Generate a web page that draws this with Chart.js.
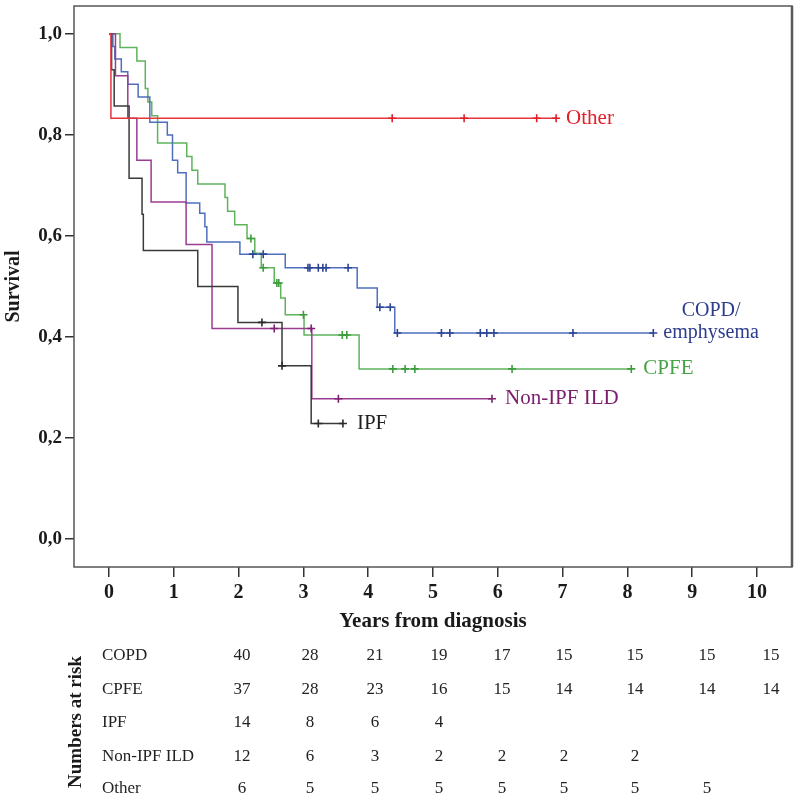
<!DOCTYPE html>
<html>
<head>
<meta charset="utf-8">
<script src="https://cdn.jsdelivr.net/npm/chart.js@4"></script>
<style>
  html, body { margin: 0; padding: 0; background: #fff; }
  #wrap { width: 800px; height: 801px; }
</style>
</head>
<body>
<div id="wrap"><canvas id="kmChart" width="800" height="801"></canvas></div>
<script>
// Axes
const yearTicks = [0, 1, 2, 3, 4, 5, 6, 7, 8, 9, 10]
const survivalTicks = [0, 0.2, 0.4, 0.6, 0.8, 1.0]

// Kaplan-Meier steps (time of drop, survival after drop), end of follow-up, censored times
const otherTimes = [0, 0.03]
const otherSurv = [1, 0.833]
const otherEnd = 6.90
const otherCensor = [4.37, 5.48, 6.60, 6.90]

const copdTimes = [0, 0.06, 0.09, 0.19, 0.29, 0.45, 0.63, 0.90, 0.98, 1.06, 1.19, 1.40, 1.48, 1.51, 2.02, 2.72, 3.83, 4.14, 4.41]
const copdSurv = [1, 0.975, 0.95, 0.925, 0.9, 0.875, 0.825, 0.8, 0.75, 0.725, 0.665, 0.645, 0.618, 0.588, 0.564, 0.537, 0.497, 0.459, 0.408]
const copdEnd = 8.40
const copdCensor = [2.22, 2.38, 3.07, 3.10, 3.23, 3.30, 3.35, 3.69, 4.18, 4.34, 4.45, 5.13, 5.26, 5.73, 5.83, 5.94, 7.16, 8.40]

const cpfeTimes = [0, 0.17, 0.43, 0.56, 0.60, 0.66, 0.75, 1.20, 1.28, 1.37, 1.79, 1.83, 1.94, 2.13, 2.25, 2.35, 2.55, 2.65, 2.72, 3.01, 3.86]
const cpfeSurv = [1, 0.973, 0.946, 0.892, 0.865, 0.838, 0.784, 0.757, 0.730, 0.703, 0.676, 0.649, 0.622, 0.595, 0.566, 0.537, 0.507, 0.477, 0.444, 0.404, 0.337]
const cpfeEnd = 8.06
const cpfeCensor = [2.19, 2.38, 2.59, 2.62, 3.00, 3.60, 3.67, 4.38, 4.57, 4.72, 6.22, 8.06]

const ildTimes = [0, 0.10, 0.29, 0.43, 0.65, 1.19, 1.59, 3.13]
const ildSurv = [1, 0.917, 0.833, 0.75, 0.667, 0.583, 0.417, 0.278]
const ildEnd = 5.91
const ildCensor = [2.55, 3.12, 3.54, 5.91]

const ipfTimes = [0, 0.04, 0.08, 0.31, 0.51, 0.53, 1.37, 1.99, 2.67, 3.12]
const ipfSurv = [1, 0.929, 0.857, 0.714, 0.643, 0.571, 0.5, 0.429, 0.343, 0.229]
const ipfEnd = 3.61
const ipfCensor = [2.36, 2.67, 3.23, 3.61]

// Numbers at risk
const riskGroups = ['COPD', 'CPFE', 'IPF', 'Non-IPF ILD', 'Other']
const riskCopd = [40, 28, 21, 19, 17, 15, 15, 15, 15]
const riskCpfe = [37, 28, 23, 16, 15, 14, 14, 14, 14]
const riskIpf = [14, 8, 6, 4]
const riskIld = [12, 6, 3, 2, 2, 2, 2]
const riskOther = [6, 5, 5, 5, 5, 5, 5, 5]

const serif = "'Liberation Serif', 'DejaVu Serif', serif"

// Tra gia tri song con tai thoi diem t
function survAt(times, surv, t) {
    let s = surv[0]
    times.forEach((tt, i) => { if (tt <= t) s = surv[i] })
    return s
}

function stepPoints(times, surv, end) {
    const pts = times.map((t, i) => ({ x: t, y: surv[i] }))
    pts.push({ x: end, y: surv[surv.length - 1] })
    return pts
}

function censorPoints(times, surv, censor) {
    return censor.map(t => ({ x: t, y: survAt(times, surv, t) }))
}

const groups = [
    { name: 'Other', times: otherTimes, surv: otherSurv, end: otherEnd, censor: otherCensor, line: '#e8343c', mark: '#e01f28', text: '#e0202a' },
    { name: 'IPF', times: ipfTimes, surv: ipfSurv, end: ipfEnd, censor: ipfCensor, line: '#3a3a3a', mark: '#2a2a2a', text: '#1e1e1e' },
    { name: 'Non-IPF ILD', times: ildTimes, surv: ildSurv, end: ildEnd, censor: ildCensor, line: '#9a3c92', mark: '#7e1f72', text: '#7a1e6c' },
    { name: 'COPD', times: copdTimes, surv: copdSurv, end: copdEnd, censor: copdCensor, line: '#4e6fbd', mark: '#2d4595', text: '#2e3c8c' },
    { name: 'CPFE', times: cpfeTimes, surv: cpfeSurv, end: cpfeEnd, censor: cpfeCensor, line: '#5fb45c', mark: '#3f9c3f', text: '#45a546' }
]

const datasets = []
groups.forEach(g => {
    datasets.push({
        type: 'scatter',
        label: g.name + ' censored',
        data: censorPoints(g.times, g.surv, g.censor),
        pointStyle: 'cross',
        pointRadius: 4,
        pointBorderWidth: 1.6,
        borderColor: g.mark,
        backgroundColor: g.mark,
        showLine: false
    })
    datasets.push({
        type: 'line',
        label: g.name,
        data: stepPoints(g.times, g.surv, g.end),
        stepped: true,
        borderColor: g.line,
        borderWidth: 1.5,
        pointRadius: 0,
        fill: false,
        tension: 0
    })
})

// Khung, nhan duong cong va bang so nguoi nguy co
const overlay = {
    id: 'overlay',
    beforeDatasetsDraw(chart) {
        const { ctx, chartArea: a } = chart
        ctx.save()
        ctx.strokeStyle = '#555'
        ctx.lineWidth = 1.5
        ctx.strokeRect(a.left, a.top, a.right - a.left, a.bottom - a.top)
        ctx.lineWidth = 2.5
        ctx.strokeStyle = '#5a5a5a'
        ctx.beginPath()
        ctx.moveTo(a.right, a.top)
        ctx.lineTo(a.right, a.bottom)
        ctx.stroke()
        ctx.restore()
    },
    afterDraw(chart) {
        const { ctx } = chart
        const xs = chart.scales.x
        const ys = chart.scales.y
        const last = arr => arr[arr.length - 1]
        ctx.save()
        ctx.textBaseline = 'middle'

        // curve labels
        const labelAt = (g, text, dx, size) => {
            ctx.font = size + 'px ' + serif
            ctx.fillStyle = g.text
            ctx.textAlign = 'left'
            ctx.fillText(text, xs.getPixelForValue(g.end) + dx, ys.getPixelForValue(last(g.surv)))
        }
        labelAt(groups[0], 'Other', 10, 21)
        labelAt(groups[1], 'IPF', 14, 21)
        labelAt(groups[2], 'Non-IPF ILD', 13, 21)
        labelAt(groups[4], 'CPFE', 12, 21)

        const copd = groups[3]
        ctx.font = '20px ' + serif
        ctx.fillStyle = copd.text
        const ex = xs.getPixelForValue(copd.end) + 10
        const ey = ys.getPixelForValue(last(copd.surv))
        const ew = ctx.measureText('emphysema').width
        ctx.textAlign = 'center'
        ctx.fillText('emphysema', ex + ew / 2, ey)
        ctx.fillText('COPD/', ex + ew / 2, ey - 22)

        // numbers at risk
        const rows = [riskCopd, riskCpfe, riskIpf, riskIld, riskOther]
        const rowY = [656, 690, 723, 757, 789]
        const colX = [242, 310, 375, 439, 502, 564, 635, 707, 771]
        ctx.fillStyle = '#222'
        ctx.font = '17px ' + serif
        rows.forEach((row, r) => {
            ctx.textAlign = 'left'
            ctx.fillText(riskGroups[r], 102, rowY[r])
            ctx.textAlign = 'center'
            row.forEach((n, c) => ctx.fillText(String(n), colX[c], rowY[r]))
        })

        ctx.translate(76, 722)
        ctx.rotate(-Math.PI / 2)
        ctx.font = 'bold 19px ' + serif
        ctx.fillStyle = '#1a1a1a'
        ctx.textAlign = 'center'
        ctx.fillText('Numbers at risk', 0, 0)
        ctx.restore()
    }
}

new Chart(document.getElementById('kmChart'), {
    data: { datasets: datasets },
    options: {
        responsive: false,
        animation: false,
        devicePixelRatio: 1,
        layout: { padding: { top: 6, right: 8, left: 0, bottom: 0 } },
        plugins: {
            legend: { display: false },
            tooltip: { enabled: false }
        },
        scales: {
            x: {
                type: 'linear',
                position: 'bottom',
                min: -0.54,
                max: 10.54,
                afterBuildTicks: scale => { scale.ticks = yearTicks.map(v => ({ value: v })) },
                afterFit: scale => {
                    scale.height = 234
                    scale.paddingLeft = 0
                    scale.paddingRight = 0
                },
                grid: { drawOnChartArea: false, drawTicks: true, tickLength: 10, color: '#333', lineWidth: 1.5 },
                border: { display: false },
                ticks: {
                    padding: 4,
                    color: '#1a1a1a',
                    maxRotation: 0,
                    font: { family: serif, size: 20, weight: 'bold' },
                    callback: v => String(v)
                },
                title: {
                    display: true,
                    text: 'Years from diagnosis',
                    color: '#1a1a1a',
                    font: { family: serif, size: 21, weight: 'bold' },
                    padding: { top: 0, bottom: 167 }
                }
            },
            y: {
                type: 'linear',
                position: 'left',
                min: -0.055,
                max: 1.055,
                afterBuildTicks: scale => { scale.ticks = survivalTicks.map(v => ({ value: v })) },
                afterFit: scale => {
                    scale.width = 74
                    scale.paddingTop = 0
                    scale.paddingBottom = 0
                },
                grid: { drawOnChartArea: false, drawTicks: true, tickLength: 9, color: '#333', lineWidth: 1.5 },
                border: { display: false },
                ticks: {
                    padding: 3,
                    color: '#1a1a1a',
                    font: { family: serif, size: 19, weight: 'bold' },
                    callback: v => v.toFixed(1).replace('.', ',')
                },
                title: {
                    display: true,
                    text: 'Survival',
                    color: '#1a1a1a',
                    font: { family: serif, size: 20, weight: 'bold' },
                    padding: { top: 2, bottom: 0 }
                }
            }
        }
    },
    plugins: [overlay]
});
</script>
</body>
</html>
